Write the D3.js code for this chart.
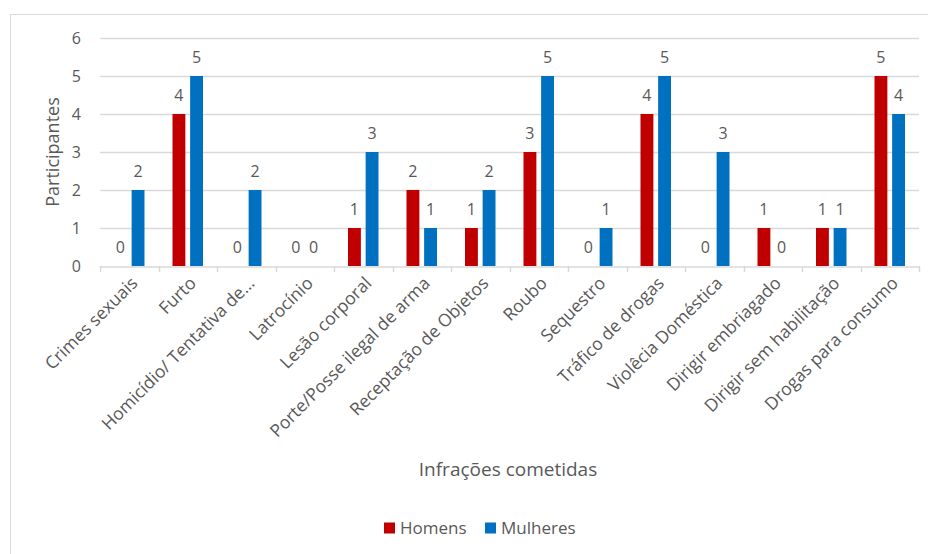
<!DOCTYPE html>
<html>
<head>
<meta charset="utf-8">
<script src="https://cdn.jsdelivr.net/npm/d3@7"></script>
<style>
    body { margin: 0; background: #fff; }
    text { font-family: "Open Sans", sans-serif; fill: #595959; }
</style>
</head>
<body>
<div id="chart"></div>
<script>
// Infrações por sexo
const categories = [
    'Crimes sexuais', 'Furto', 'Homicídio/ Tentativa de…', 'Latrocínio',
    'Lesão corporal', 'Porte/Posse ilegal de arma', 'Receptação de Objetos',
    'Roubo', 'Sequestro', 'Tráfico de drogas', 'Violêcia Doméstica',
    'Dirigir embriagado', 'Dirigir sem habilitação', 'Drogas para consumo'
];
const homens   = [0, 4, 0, 0, 1, 2, 1, 3, 0, 4, 0, 1, 1, 5];
const mulheres = [2, 5, 2, 0, 3, 1, 2, 5, 1, 5, 3, 0, 1, 4];
const seriesNames = ['Homens', 'Mulheres'];
const yTicks = [0, 1, 2, 3, 4, 5, 6];

const colors = { Homens: '#C00000', Mulheres: '#0070C0' };

const width = 928, height = 554;
const margin = { top: 38, right: 9, bottom: 288, left: 100 };
const innerW = width - margin.left - margin.right;
const innerH = height - margin.top - margin.bottom;

const svg = d3.select('#chart')
    .append('svg')
    .attr('width', width)
    .attr('height', height);

// chart border
svg.append('rect')
    .attr('x', 10.5).attr('y', 14.5)
    .attr('width', 940).attr('height', 560)
    .attr('fill', 'none')
    .attr('stroke', '#d9d9d9');

const g = svg.append('g')
    .attr('transform', `translate(${margin.left}, ${margin.top})`);

const x = d3.scaleBand()
    .domain(categories)
    .range([0, innerW]);

const x1 = d3.scaleBand()
    .domain(seriesNames)
    .range([14, x.bandwidth() - 14])
    .paddingInner(0.27);

const y = d3.scaleLinear()
    .domain([0, 6])
    .range([innerH, 0]);

// gridlines
g.selectAll('.grid')
    .data(yTicks.filter(d => d > 0))
    .enter()
    .append('line')
    .attr('x1', 0).attr('x2', innerW)
    .attr('y1', d => y(d) + 0.5).attr('y2', d => y(d) + 0.5)
    .attr('stroke', '#d9d9d9')
    .attr('stroke-width', 1.5);

// y axis labels
const yAxis = d3.axisLeft(y).tickValues(yTicks).tickFormat(d3.format('d')).tickSize(0).tickPadding(19);
g.append('g')
    .call(yAxis)
    .call(s => s.select('.domain').remove())
    .selectAll('text')
    .style('font-size', '16px')
    .attr('fill', '#595959');

// bars
const data = categories.map((c, i) => ({ cat: c, values: [
    { key: 'Homens', value: homens[i] },
    { key: 'Mulheres', value: mulheres[i] }
]}));

const groups = g.selectAll('.group')
    .data(data)
    .enter()
    .append('g')
    .attr('transform', d => `translate(${x(d.cat)}, 0)`);

groups.selectAll('rect')
    .data(d => d.values)
    .enter()
    .append('rect')
    .attr('x', d => x1(d.key))
    .attr('y', d => y(d.value))
    .attr('width', x1.bandwidth())
    .attr('height', d => innerH - y(d.value))
    .attr('fill', d => colors[d.key]);

groups.selectAll('.val')
    .data(d => d.values)
    .enter()
    .append('text')
    .attr('x', d => x1(d.key) + x1.bandwidth() / 2)
    .attr('y', d => y(d.value) - 13)
    .attr('text-anchor', 'middle')
    .style('font-size', '16px')
    .text(d => d.value);

// x axis
const xAxis = d3.axisBottom(x).tickSize(0).tickFormat('');
const xg = g.append('g')
    .attr('transform', `translate(0, ${innerH + 0.5})`)
    .call(xAxis);
xg.select('.domain').attr('stroke', '#d9d9d9').attr('stroke-width', 1.5);

// tick marks at band boundaries
g.selectAll('.btick')
    .data(d3.range(categories.length + 1))
    .enter()
    .append('line')
    .attr('x1', i => Math.round(i * x.step()) + 0.5)
    .attr('x2', i => Math.round(i * x.step()) + 0.5)
    .attr('y1', innerH).attr('y2', innerH + 6)
    .attr('stroke', '#d9d9d9')
    .attr('stroke-width', 1.5);

// rotated category labels
g.selectAll('.xlab')
    .data(categories)
    .enter()
    .append('text')
    .attr('transform', d => `translate(${x(d) + x.bandwidth() / 2 + 5}, ${innerH + 14}) rotate(-45)`)
    .attr('text-anchor', 'end')
    .attr('dy', '0.35em')
    .style('font-size', '17.5px')
    .text(d => d);

// axis titles
svg.append('text')
    .attr('transform', `translate(59, ${margin.top + innerH / 2}) rotate(-90)`)
    .attr('text-anchor', 'middle')
    .style('font-size', '18px')
    .text('Participantes');

svg.append('text')
    .attr('x', 508)
    .attr('y', 476)
    .attr('text-anchor', 'middle')
    .style('font-size', '19px')
    .text('Infrações cometidas');

// legend
const legend = svg.append('g')
    .attr('transform', 'translate(384, 528)');

const legendX = [0, 101];
seriesNames.forEach((s, i) => {
    const lg = legend.append('g').attr('transform', `translate(${legendX[i]}, 0)`);
    lg.append('rect')
        .attr('x', 0).attr('y', -5.5)
        .attr('width', 11).attr('height', 11)
        .attr('fill', colors[s]);
    lg.append('text')
        .attr('x', 16).attr('y', 0)
        .attr('dy', '0.35em')
        .style('font-size', '17px')
        .text(s);
});
</script>
</body>
</html>
